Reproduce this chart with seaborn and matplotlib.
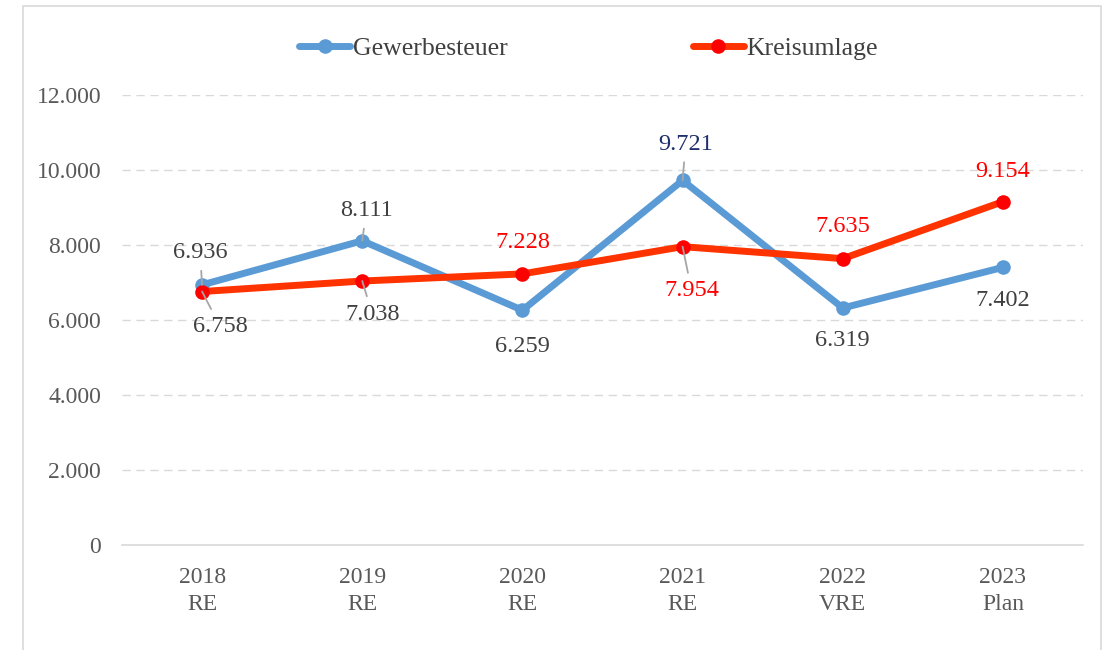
import seaborn as sns
import matplotlib.pyplot as plt
import pandas as pd
from matplotlib.patches import Rectangle

# Data
categories = ['2018\nRE', '2019\nRE', '2020\nRE', '2021\nRE', '2022\nVRE', '2023\nPlan']
gewerbesteuer = [6936, 8111, 6259, 9721, 6319, 7402]
kreisumlage = [6758, 7038, 7228, 7954, 7635, 9154]

sns.set_style("white")
plt.rcParams['font.family'] = ['Liberation Serif', 'DejaVu Serif']

df = pd.DataFrame({'Jahr': categories, 'Gewerbesteuer': gewerbesteuer, 'Kreisumlage': kreisumlage})

fig = plt.figure(figsize=(11.04, 6.5), dpi=100)
ax = fig.add_axes([0.1105, 0.1615, 0.8705, 0.6925])

blue = '#5B9BD5'
sns.lineplot(data=df, x='Jahr', y='Gewerbesteuer', ax=ax, color=blue, linewidth=5,
             marker='o', markersize=10.5, markeredgewidth=0, label='Gewerbesteuer', sort=False)
sns.lineplot(data=df, x='Jahr', y='Kreisumlage', ax=ax, color='#FF3300', linewidth=5,
             marker='o', markersize=10.5, markerfacecolor='#FF0000', markeredgewidth=0,
             label='Kreisumlage', sort=False)

ax.set_xlim(-0.5, 5.5)
ax.set_ylim(0, 12000)
ax.set_yticks(range(0, 12001, 2000))
ax.set_yticklabels(['0'] + [f'{v // 1000}.000' for v in range(2000, 12001, 2000)])
ax.set_xlabel('')
ax.set_ylabel('')
ax.tick_params(axis='both', length=0, labelsize=17, labelcolor='#595959')
ax.tick_params(axis='y', pad=15)
ax.tick_params(axis='x', pad=16)
for lbl in ax.get_xticklabels():
    lbl.set_linespacing(1.35)

for v in range(2000, 12001, 2000):
    ax.axhline(v, color='#D9D9D9', lw=1, ls=(0, (6, 4)), zorder=0)
for s in ['top', 'right', 'left']:
    ax.spines[s].set_visible(False)
ax.spines['bottom'].set_color('#D9D9D9')
ax.spines['bottom'].set_linewidth(1.2)

# data labels: (dx px, dy px, color, leader)
gray = '#404040'
blue_lbl = [(-2, 32, gray, True), (4, 30, gray, True), (0, -36, gray, False),
            (3, 36, '#1F2F6B', True), (0, -33, gray, False), (0, -33, gray, False)]
red_lbl = [(18, -35, gray, True), (10, -33, gray, True), (0, 31, '#FF0000', False),
           (9, -44, '#FF0000', True), (0, 32, '#FF0000', False), (0, 30, '#FF0000', False)]

def label(vals, specs):
    for i, (v, (dx, dy, c, leader)) in enumerate(zip(vals, specs)):
        txt = f'{v / 1000:.3f}'
        arrow = dict(arrowstyle='-', color='#A6A6A6', lw=1.3, shrinkA=3, shrinkB=0) if leader else None
        ax.annotate(txt, xy=(i, v), xytext=(dx * 0.72, dy * 0.72), textcoords='offset points',
                    ha='center', va='center', fontsize=17.5, color=c, arrowprops=arrow, zorder=5)

label(gewerbesteuer, blue_lbl)
label(kreisumlage, red_lbl)

leg = ax.legend(loc='center', bbox_to_anchor=(0.533, 0.926), bbox_transform=fig.transFigure,
                ncol=2, frameon=False, fontsize=18.5, handlelength=2.0, handletextpad=0.1,
                columnspacing=7.2)
for t in leg.get_texts():
    t.set_color('#404040')

# outer chart border
fig.patches.append(Rectangle((23 / 1104, -0.1), (1101 - 23) / 1104, 0.1 + (650 - 6) / 650,
                             transform=fig.transFigure, fill=False, edgecolor='#D9D9D9', lw=1.2))

fig.savefig('out.png', dpi=100)
